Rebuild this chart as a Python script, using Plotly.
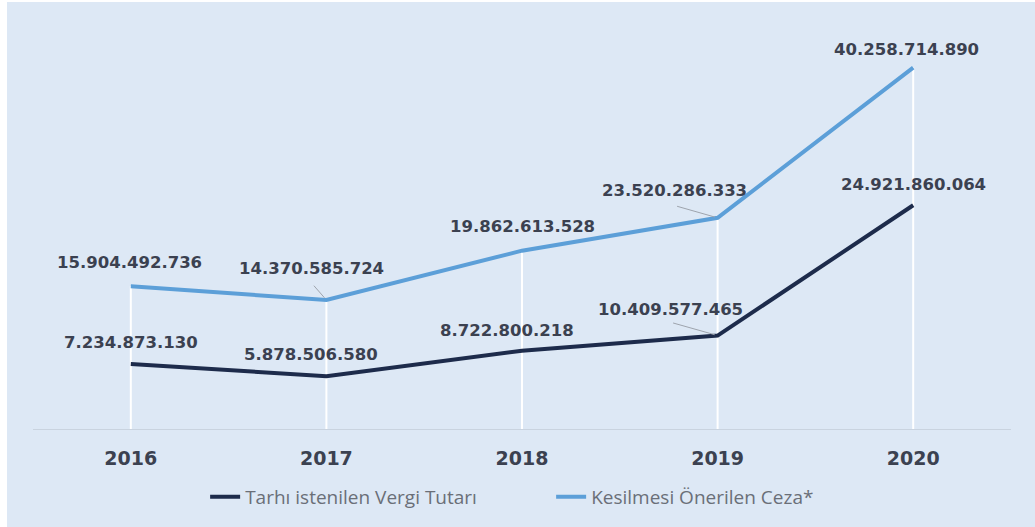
import plotly.graph_objects as go

years = ["2016", "2017", "2018", "2019", "2020"]
vergi = [7234873130, 5878506580, 8722800218, 10409577465, 24921860064]
ceza = [15904492736, 14370585724, 19862613528, 23520286333, 40258714890]
vergi_labels = ["7.234.873.130", "5.878.506.580", "8.722.800.218", "10.409.577.465", "24.921.860.064"]
ceza_labels = ["15.904.492.736", "14.370.585.724", "19.862.613.528", "23.520.286.333", "40.258.714.890"]
series_names = ["Tarhı istenilen Vergi Tutarı", "Kesilmesi Önerilen Ceza*"]

BG = "#dde8f5"
DARK = "#1d2b4b"
LIGHT = "#5c9fd8"
LABEL = "#3b4150"

idx = list(range(len(years)))

fig = go.Figure()

# white drop lines from baseline to upper series
dx, dy = [], []
for i, v in zip(idx, ceza):
    dx += [i, i, None]
    dy += [0, v, None]
fig.add_trace(go.Scatter(x=dx, y=dy, mode="lines", line=dict(color="white", width=2),
                         showlegend=False, hoverinfo="skip"))

fig.add_trace(go.Scatter(x=idx, y=vergi, mode="lines", name=series_names[0],
                         line=dict(color=DARK, width=4)))
fig.add_trace(go.Scatter(x=idx, y=ceza, mode="lines", name=series_names[1],
                         line=dict(color=LIGHT, width=4)))

lab_font = dict(family="DejaVu Sans", size=16.5, color=LABEL, weight="bold")

# label offsets (pixels) relative to points
ceza_off = [(-1, 24), (-15, 31), (0, 24), (-43, 27), (-7, 18)]
vergi_off = [(0, 22), (-15, 22), (-15, 20), (-47, 26), (0, 21)]
ann = []
for i, v, t, (xs, ys) in zip(idx, ceza, ceza_labels, ceza_off):
    ann.append(dict(x=i, y=v, xref="x", yref="y", text=t, showarrow=False,
                    xshift=xs, yshift=ys, font=lab_font))
for i, v, t, (xs, ys) in zip(idx, vergi, vergi_labels, vergi_off):
    ann.append(dict(x=i, y=v, xref="x", yref="y", text=t, showarrow=False,
                    xshift=xs, yshift=ys, font=lab_font))

# leader lines
leaders = [(1, ceza[1], -14, -16), (3, ceza[3], -42, -12), (3, vergi[3], -46, -13)]
for i, v, ax, ay in leaders:
    ann.append(dict(x=i, y=v, xref="x", yref="y", text=" ", showarrow=True, arrowhead=0,
                    arrowwidth=1, arrowcolor="#9ea4ad", ax=ax, ay=ay, standoff=3,
                    font=dict(size=1)))

fig.update_layout(
    width=1028, height=525,
    margin=dict(l=26, r=24, t=23, b=97),
    paper_bgcolor=BG, plot_bgcolor=BG,
    annotations=ann,
    showlegend=True,
    legend=dict(orientation="h", x=0.176, xanchor="left", y=-0.165, yanchor="middle",
                font=dict(family="Open Sans", size=19, color="#6a6f78"),
                entrywidth=301, entrywidthmode="pixels",
                bgcolor="rgba(0,0,0,0)"),
    xaxis=dict(range=[-0.5, 4.5], showgrid=False, zeroline=False,
               tickmode="array", tickvals=idx, ticktext=years,
               showline=True, linecolor="#c9d3df", linewidth=1, ticks="",
               ticklabelstandoff=12,
               tickfont=dict(family="DejaVu Sans", size=19, color=LABEL, weight="bold")),
    yaxis=dict(range=[0, 45e9], visible=False, showgrid=False, zeroline=False),
)

fig.write_html("out.html", post_script="document.body.style.margin='2px 0 0 7px';")
